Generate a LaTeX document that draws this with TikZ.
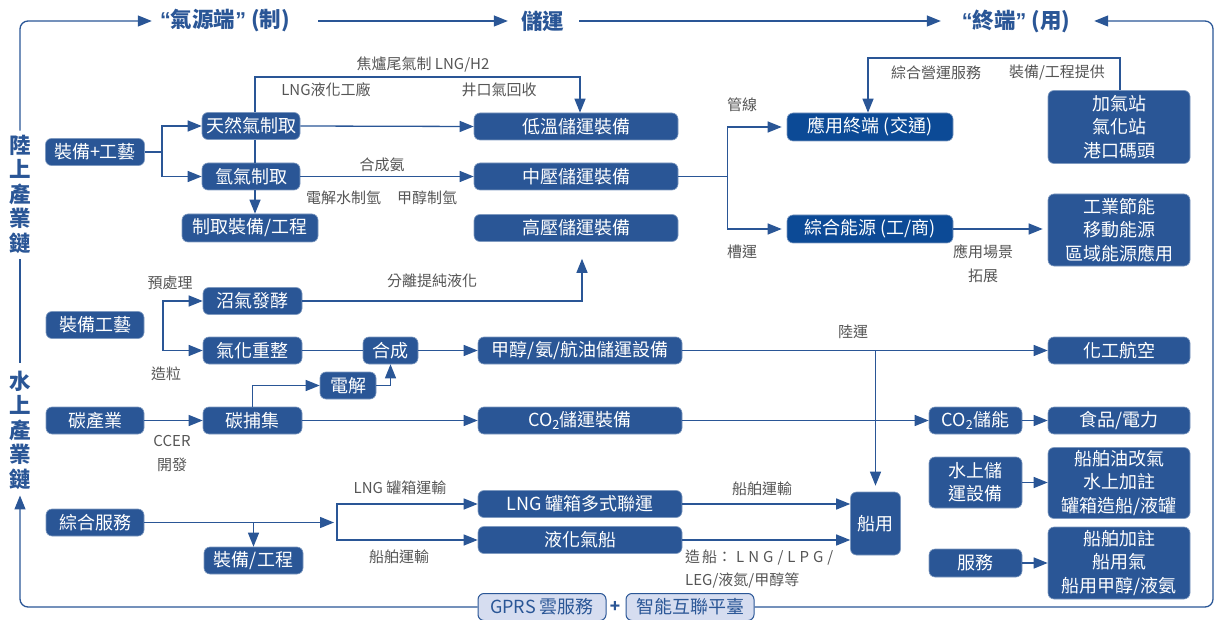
\documentclass[tikz,border=0pt]{standalone}
\usepackage{fontspec}
\setmainfont{Noto Sans CJK TC}
\newfontfamily\qfont{Liberation Sans}
\usetikzlibrary{arrows.meta,calc}
\definecolor{mblue}{RGB}{42,86,150}
\definecolor{dblue}{RGB}{12,74,150}
\definecolor{labelgray}{RGB}{85,85,85}
\definecolor{pale}{RGB}{214,221,240}
\begin{document}
\begin{tikzpicture}[x=1pt,y=-1pt,
 box/.style={rounded corners=6pt, fill=mblue, draw=mblue!60!white, line width=0.6pt, text=white, font=\fontsize{18}{23.3}\selectfont, inner sep=0pt, align=center},
 pbox/.style={box, fill=pale, draw=mblue, line width=1pt, text=mblue},
 lb/.style={text=labelgray, font=\fontsize{15}{24}\selectfont, inner sep=0pt, align=center},
 ln/.style={draw=mblue, line width=1.3pt},
 arr/.style={ln, -{Triangle[length=14pt,width=11pt]}},
 ttl/.style={text=mblue, font=\fontsize{21.5}{24.5}\selectfont\bfseries, inner sep=0pt, align=center}]
\useasboundingbox (0,0) rectangle (1217,620);

% titles
\node[ttl, minimum width=142pt] (t1) at (225,21) {{\qfont “}氣源端{\qfont ”}\kern5pt(制)};
\node[ttl, minimum width=45pt] (t2) at (542.5,21) {儲運};
\node[ttl, minimum width=116pt] (t3) at (1016,21) {{\qfont “}終端{\qfont ”}\kern5pt(用)};
\node[ttl] (lv1) at (20,194) {陸\\上\\產\\業\\鏈};
\node[ttl] (lv2) at (20,430) {水\\上\\產\\業\\鏈};

% left column
\node[box, minimum width=99pt, minimum height=27pt] (a1) at (95,152) {裝備+工藝};
\node[box, minimum width=98pt, minimum height=27pt] (a2) at (95,325) {裝備工藝};
\node[box, minimum width=98pt, minimum height=27pt] (a3) at (95,420.5) {碳產業};
\node[box, minimum width=98pt, minimum height=27pt] (zs) at (95,522.5) {綜合服務};

% source column
\node[box, minimum width=98pt, minimum height=27pt] (tr) at (251,126) {天然氣制取};
\node[box, minimum width=98pt, minimum height=27pt] (h2) at (251,176.5) {氫氣制取};
\node[box, minimum width=136pt, minimum height=28pt] (eq) at (250,228) {制取裝備/工程};
\node[box, minimum width=99pt, minimum height=27pt] (bg) at (252.5,301) {沼氣發酵};
\node[box, minimum width=99pt, minimum height=27pt] (gr) at (252.5,350.5) {氣化重整};
\node[box, minimum width=55pt, minimum height=27pt] (hc) at (390.5,350.5) {合成};
\node[box, minimum width=56pt, minimum height=27pt] (el) at (348,385.5) {電解};
\node[box, minimum width=99pt, minimum height=27pt] (cc) at (252.5,420.5) {碳捕集};
\node[box, minimum width=99pt, minimum height=27pt] (ze) at (253.5,560.5) {裝備/工程};

% storage column
\node[box, minimum width=204pt, minimum height=27pt] (lt) at (576,126.5) {低溫儲運裝備};
\node[box, minimum width=204pt, minimum height=27pt] (mp) at (576,176.5) {中壓儲運裝備};
\node[box, minimum width=204pt, minimum height=27pt] (hp) at (576,228) {高壓儲運裝備};
\node[box, minimum width=204pt, minimum height=27pt] (me) at (580,350.5) {甲醇/氨/航油儲運設備};
\node[box, minimum width=204pt, minimum height=27pt] (co) at (580,420.5) {CO\textsubscript{2}儲運裝備};
\node[box, minimum width=204pt, minimum height=27pt] (lng) at (580,504) {LNG 罐箱多式聯運};
\node[box, minimum width=204pt, minimum height=27pt] (lq) at (580,540) {液化氣船};

% end column
\node[box, fill=dblue, minimum width=166pt, minimum height=28pt] (ue) at (870,127) {應用終端 (交通)};
\node[box, fill=dblue, minimum width=166pt, minimum height=28pt] (ce) at (870,229) {綜合能源 (工/商)};
\node[box, minimum width=50pt, minimum height=63pt] (ship) at (875.5,523.5) {船用};
\node[box, minimum width=93pt, minimum height=27pt] (cs) at (975.5,420.5) {CO\textsubscript{2}儲能};
\node[box, minimum width=93pt, minimum height=51pt] (ws) at (975.5,482.5) {水上儲\\運設備};
\node[box, minimum width=93pt, minimum height=28pt] (sv) at (975.5,563) {服務};
\node[box, minimum width=142pt, minimum height=73pt] (gs) at (1119,127) {加氣站\\氣化站\\港口碼頭};
\node[box, minimum width=142pt, minimum height=72pt] (ie) at (1119,230) {工業節能\\移動能源\\區域能源應用};
\node[box, minimum width=142pt, minimum height=27pt] (hk) at (1119,350.5) {化工航空};
\node[box, minimum width=142pt, minimum height=27pt] (fp) at (1119,420.5) {食品/電力};
\node[box, minimum width=142pt, minimum height=71pt] (wb) at (1119,483) {船舶油改氣\\水上加註\\罐箱造船/液罐};
\node[box, minimum width=142pt, minimum height=72pt] (sb) at (1119,563) {船舶加註\\船用氣\\船用甲醇/液氨};

% bottom platform
\node[pbox, minimum width=128pt, minimum height=27pt] (gp) at (542,607) {GPRS 雲服務};
\node[text=mblue, font=\fontsize{17}{20}\selectfont\bfseries, inner sep=0pt] (plus) at (615,607) {+};
\node[pbox, minimum width=128pt, minimum height=27pt] (pf) at (690,607) {智能互聯平臺};

% labels
\node[lb] (l1) at (423,65) {焦爐尾氣制 LNG/H2};
\node[lb] (l2) at (326,90) {LNG液化工廠};
\node[lb] (l3) at (499,90) {井口氣回收};
\node[lb] (l4) at (382,165) {合成氨};
\node[lb] (l5) at (343.5,198) {電解水制氫};
\node[lb] (l6) at (427,198) {甲醇制氫};
\node[lb] (l7) at (742,105) {管線};
\node[lb] (l8) at (742,252) {槽運};
\node[lb] (l9) at (983,263.5) {應用場景\\拓展};
\node[lb] (l10) at (936,73) {綜合營運服務};
\node[lb] (l11) at (1057,73) {裝備/工程提供};
\node[lb] (l12) at (170,283) {預處理};
\node[lb] (l13) at (166,374) {造粒};
\node[lb] (l14) at (432,281) {分離提純液化};
\node[lb] (l15) at (172,454) {CCER\\開發};
\node[lb] (l16) at (853,332) {陸運};
\node[lb] (l17) at (762,489) {船舶運輸};
\node[lb] (l18) at (400,488) {LNG 罐箱運輸};
\node[lb] (l19) at (399,557) {船舶運輸};
\node[lb, anchor=west] (l20) at (685,558) {造\kern2pt 船：\kern4pt L\kern4pt N\kern4pt G\kern4pt /\kern4pt L\kern4pt P\kern4pt G\kern4pt /};
\node[lb, anchor=west] (l21) at (685,580) {LEG/液氮/甲醇等};

% coordinates
\coordinate (f1) at (162,152);
\coordinate (f2) at (163,326);
\coordinate (f3) at ($(mp.east)+(49,0)$);
\coordinate (f4) at (337,522.5);
\coordinate (c77) at (580,77);
\coordinate (c58) at (868,58);
\coordinate (tl) at (20,21);
\coordinate (bl) at (20,607);
\coordinate (br) at (1213,607);
\coordinate (trc) at (1213,21);

% frame and titles
\draw[arr, rounded corners=8pt, shorten <=4pt, shorten >=2pt] (lv1.north) -- (tl) -- (t1.west);
\draw[ln, shorten <=6pt, shorten >=8pt] (lv1.south) -- (lv2.north);
\draw[arr, rounded corners=8pt, shorten >=6pt] (gp.west) -- (bl) -- (lv2.south);
\draw[arr, rounded corners=8pt, shorten >=20pt] (pf.east) -- (br) -- (trc) -- (t3.east);
\draw[arr, shorten <=22pt, shorten >=12pt] (t1.east) -- (t2.west);
\draw[arr, shorten <=14pt, shorten >=17pt] (t2.east) -- (t3.west);

% upper source
\draw[ln] (a1.east) -- (f1);
\draw[arr] (f1) |- (tr.west);
\draw[arr] (f1) |- (h2.west);
\draw[ln] ([xshift=4pt]tr.south) -- ([xshift=4pt]h2.north);
\draw[arr] ([xshift=4pt]h2.south) -- ([xshift=4pt]h2.south |- eq.north);
\draw[arr] ([xshift=4pt]tr.north) |- (c77) -- ([xshift=4pt]lt.north);
\draw[arr] (tr.east) -- (lt.west);
\draw[arr] (h2.east) -- (mp.west);

% storage to end
\draw[ln] (mp.east) -- (f3);
\draw[arr, shorten >=5pt] (f3) |- (ue.west);
\draw[arr, shorten >=5pt] (f3) |- (ce.west);
\draw[arr, shorten >=5pt] (ce.east) -- (ce.east -| ie.west);
\draw[arr] ([xshift=1pt]gs.north) |- (c58) -- (ue.north -| c58);

% middle
\draw[arr] (f2) |- (bg.west);
\draw[arr] (f2) |- (gr.west);
\draw[arr, shorten >=17pt] (bg.east) -| ([xshift=6pt]hp.south);
\draw[ln] (gr.east) -- (hc.west);
\draw[arr] (hc.east) -- (me.west);
\draw[arr] (cc.north) |- (el.west);
\draw[arr] (el.east) -| (hc.south);
\draw[arr] (a3.east) -- (cc.west);
\draw[arr] (cc.east) -- (co.west);
\draw[arr] (me.east) -- (hk.west);
\draw[arr, shorten >=6pt] (ship.north |- me.east) -- (ship.north);
\draw[arr] (co.east) -- (cs.west);
\draw[arr] (cs.east) -- (fp.west);
\draw[arr] (ws.east) -- (ws.east -| wb.west);
\draw[arr] (sv.east) -- (sv.east -| sb.west);

% lower
\draw[arr, shorten >=3pt] (zs.east) -- (f4);
\draw[arr] (ze.north |- zs.east) -- (ze.north);
\draw[arr] (f4) |- (lng.west);
\draw[arr] (f4) |- (lq.west);
\draw[arr] (lng.east) -- (ship.west |- lng.east);
\draw[arr] (lq.east) -- (ship.west |- lq.east);
\end{tikzpicture}
\end{document}
